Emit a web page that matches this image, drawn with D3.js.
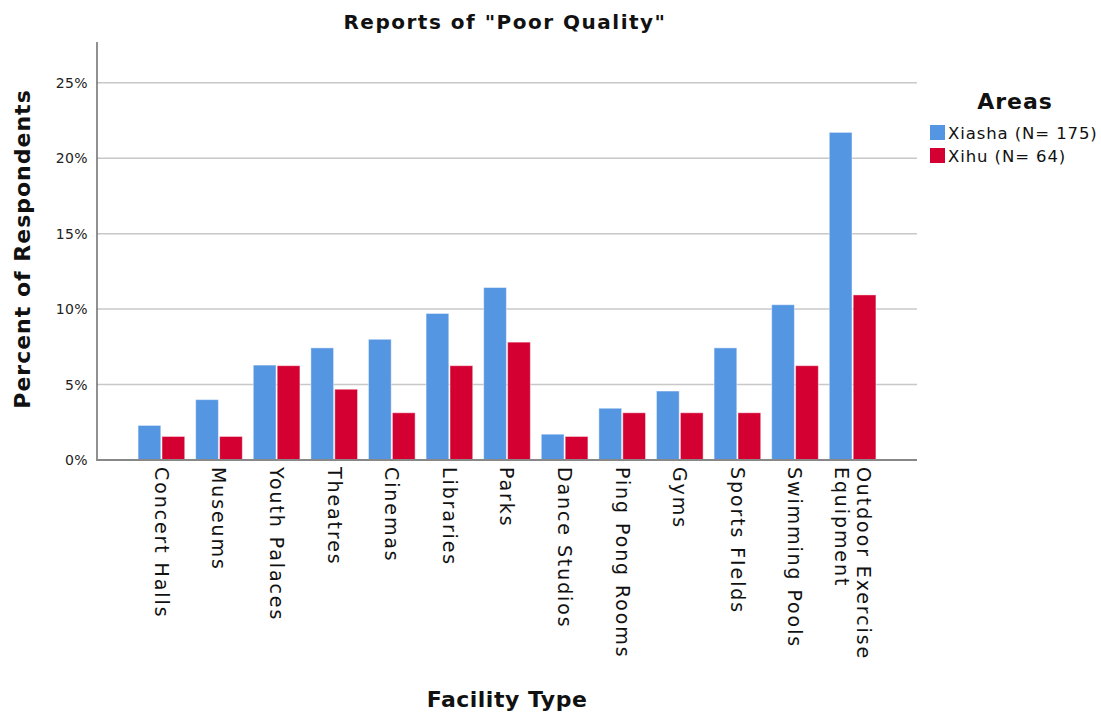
<!DOCTYPE html>
<html>
<head>
<meta charset="utf-8">
<script src="https://cdn.jsdelivr.net/npm/d3@7"></script>
<style>
  body { margin: 0; background: #fff; }
  text { font-family: "DejaVu Sans", sans-serif; }
</style>
</head>
<body>
<div id="chart"></div>
<script>
var facilities = ['Concert Halls', 'Museums', 'Youth Palaces', 'Theatres', 'Cinemas', 'Libraries',
    'Parks', 'Dance Studios', 'Ping Pong Rooms', 'Gyms', 'Sports FIelds', 'Swimming Pools',
    'Outdoor Exercise Equipment'];
var areas = ['Xiasha (N= 175)', 'Xihu (N= 64)'];
var xiasha = [2.29, 4.0, 6.29, 7.43, 8.0, 9.71, 11.43, 1.71, 3.43, 4.57, 7.43, 10.29, 21.71];
var xihu = [1.56, 1.56, 6.25, 4.69, 3.13, 6.25, 7.81, 1.56, 3.13, 3.13, 3.13, 6.25, 10.94];
var yTicks = [0, 5, 10, 15, 20, 25];
var colors = ['#5596e3', '#d50032'];

var data = facilities.map((f, i) => ({name: f, values: [xiasha[i], xihu[i]]}));

var W = 1101, H = 715;
var plotLeft = 97, plotRight = 917, plotTop = 42, plotBottom = 460;

var svg = d3.select('#chart').append('svg')
    .attr('width', W).attr('height', H);

var x = d3.scaleBand().domain(facilities).range([plotLeft, plotRight])
    .paddingInner(0.19).paddingOuter(0.713);
var xs = d3.scaleBand().domain([0, 1]).range([0, x.bandwidth()]).paddingInner(0.05);
var y = d3.scaleLinear().domain([0, 27.7]).range([plotBottom, plotTop]);

// gridlines
svg.append('g').selectAll('line')
    .data(yTicks.filter(d => d > 0))
    .enter().append('line')
        .attr('x1', plotLeft).attr('x2', plotRight)
        .attr('y1', d => y(d)).attr('y2', d => y(d))
        .attr('stroke', '#c8c8c8').attr('stroke-width', 1.5);

// bars
var groups = svg.append('g').selectAll('g')
    .data(data)
    .enter().append('g')
        .attr('transform', d => 'translate(' + x(d.name) + ',0)');

groups.selectAll('rect')
    .data(d => d.values)
    .enter().append('rect')
        .attr('x', (d, i) => xs(i))
        .attr('y', d => y(d))
        .attr('width', xs.bandwidth())
        .attr('height', d => plotBottom - y(d))
        .attr('fill', (d, i) => colors[i])
        .attr('stroke', 'rgba(255,255,255,0.45)')
        .attr('stroke-width', 1);

// y axis
var yAxis = svg.append('g')
    .attr('transform', 'translate(' + plotLeft + ',0)')
    .call(d3.axisLeft(y).tickValues(yTicks).tickSize(0).tickPadding(9).tickFormat(d => d + '%'));
yAxis.select('.domain').remove();
yAxis.selectAll('text')
    .attr('font-size', 14).attr('letter-spacing', 0.4)
    .attr('fill', '#222').attr('font-family', 'DejaVu Sans');
svg.append('line')
    .attr('x1', plotLeft).attr('x2', plotLeft).attr('y1', plotTop).attr('y2', plotBottom + 1)
    .attr('stroke', '#555').attr('stroke-width', 1.3);

// x axis
var xAxis = svg.append('g')
    .attr('transform', 'translate(0,' + plotBottom + ')')
    .call(d3.axisBottom(x).tickSize(0).tickPadding(0));
xAxis.select('.domain').remove();
xAxis.selectAll('text').remove();
svg.append('line')
    .attr('x1', plotLeft).attr('x2', plotRight).attr('y1', plotBottom).attr('y2', plotBottom)
    .attr('stroke', '#888').attr('stroke-width', 2);

xAxis.selectAll('.tick').each(function(d) {
    var t = d3.select(this).append('text')
        .attr('transform', 'rotate(90)')
        .attr('text-anchor', 'start')
        .attr('font-size', 19)
        .attr('letter-spacing', 1.9)
        .attr('fill', '#111')
        .attr('font-family', 'DejaVu Sans');
    var lines = d === 'Outdoor Exercise Equipment' ? ['Outdoor Exercise', 'Equipment'] : [d];
    var offs = lines.length === 1 ? [0.35] : [-0.25, 0.95];
    lines.forEach((l, j) => {
        t.append('tspan')
            .attr('x', 7)
            .attr('y', 0)
            .attr('dy', offs[j] + 'em')
            .text(l);
    });
});

// titles
svg.append('text')
    .attr('x', 505).attr('y', 29)
    .attr('text-anchor', 'middle')
    .attr('font-size', 20)
    .attr('font-weight', 'bold')
    .attr('letter-spacing', 1.5)
    .attr('fill', '#111')
    .text('Reports of "Poor Quality"');

svg.append('text')
    .attr('x', 507).attr('y', 707)
    .attr('text-anchor', 'middle')
    .attr('font-size', 22)
    .attr('font-weight', 'bold')
    .attr('letter-spacing', 0.5)
    .attr('fill', '#111')
    .text('Facility Type');

svg.append('text')
    .attr('transform', 'translate(30,249) rotate(-90)')
    .attr('text-anchor', 'middle')
    .attr('font-size', 22)
    .attr('font-weight', 'bold')
    .attr('letter-spacing', 1)
    .attr('fill', '#111')
    .text('Percent of Respondents');

// legend
var legend = svg.append('g').attr('transform', 'translate(930,0)');
legend.append('text')
    .attr('x', 85).attr('y', 109)
    .attr('text-anchor', 'middle')
    .attr('font-size', 22)
    .attr('font-weight', 'bold')
    .attr('letter-spacing', 1)
    .attr('fill', '#111')
    .text('Areas');
areas.forEach((a, i) => {
    legend.append('rect')
        .attr('x', 0).attr('y', 125 + i * 23)
        .attr('width', 15).attr('height', 15)
        .attr('fill', colors[i]);
    legend.append('text')
        .attr('x', 18).attr('y', 139 + i * 23)
        .attr('font-size', 16.5)
        .attr('letter-spacing', 0.9)
        .attr('fill', '#111')
        .text(a);
});
</script>
</body>
</html>
